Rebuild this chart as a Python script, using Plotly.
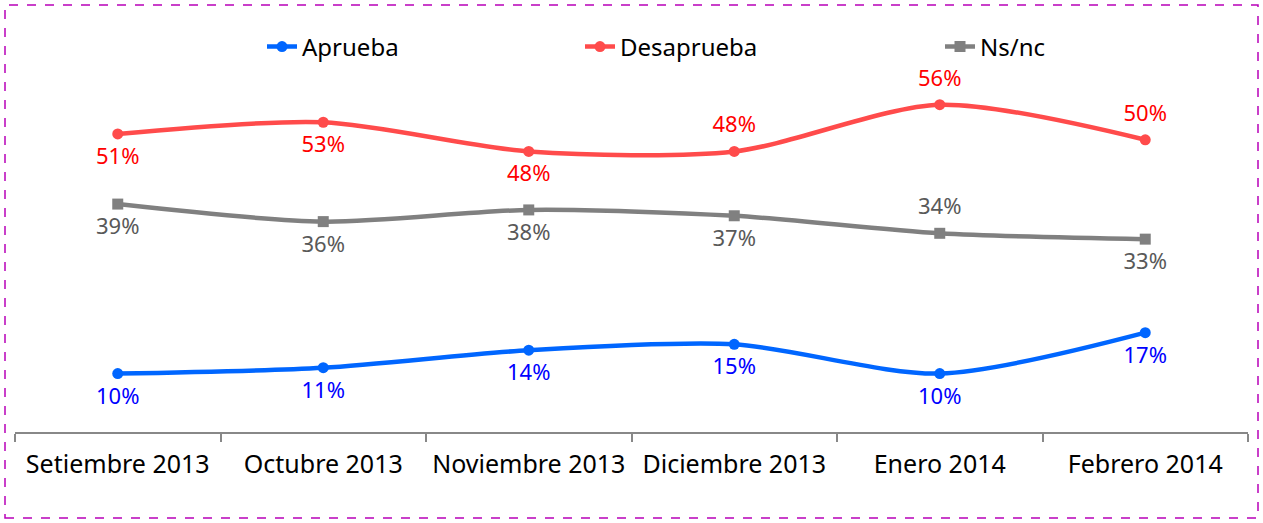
import plotly.graph_objects as go

meses = ["Setiembre 2013", "Octubre 2013", "Noviembre 2013", "Diciembre 2013", "Enero 2014", "Febrero 2014"]
aprueba = [10, 11, 14, 15, 10, 17]
desaprueba = [51, 53, 48, 48, 56, 50]
nsnc = [39, 36, 38, 37, 34, 33]

pos_aprueba = ["bottom center"] * 6
pos_desaprueba = ["bottom center"] * 3 + ["top center"] * 3
pos_nsnc = ["bottom center"] * 4 + ["top center", "bottom center"]

W, H = 1263, 523
L, R, T, B = 15, 15, 72, 91
pw, ph = W - L - R, H - T - B

def px_x(v):
    return (v - L) / pw

def px_y(v):
    return (H - B - v) / ph

fig = go.Figure()

series = [
    ("Aprueba", aprueba, "#0066FF", "#0000FF", "circle", pos_aprueba, "legend"),
    ("Desaprueba", desaprueba, "#FF4B4B", "#FF0000", "circle", pos_desaprueba, "legend2"),
    ("Ns/nc", nsnc, "#808080", "#595959", "square", pos_nsnc, "legend3"),
]

for name, vals, col, tcol, sym, pos, leg in series:
    fig.add_trace(go.Scatter(
        x=meses, y=vals, name=name, mode="lines+markers",
        line=dict(color=col, width=4.5, shape="spline", smoothing=0.8),
        marker=dict(color=col, size=11, symbol=sym),
        legend=leg, cliponaxis=False,
    ))
    # labels pushed a little further from the points
    fig.add_trace(go.Scatter(
        x=meses, y=vals, mode="markers+text", showlegend=False, hoverinfo="skip",
        marker=dict(size=20, opacity=0),
        text=[f"{v}%" for v in vals], textposition=pos,
        textfont=dict(color=tcol, size=22, family="Noto Sans"),
        cliponaxis=False,
    ))

leg_common = dict(orientation="h", yanchor="middle", xanchor="left",
                  font=dict(size=24, color="#000000", family="Noto Sans"),
                  bgcolor="rgba(0,0,0,0)", itemwidth=30)
fig.update_layout(
    showlegend=True,
    legend=dict(x=px_x(262), y=px_y(47), **leg_common),
    legend2=dict(x=px_x(580), y=px_y(47), **leg_common),
    legend3=dict(x=px_x(940), y=px_y(47), **leg_common),
)

fig.update_xaxes(
    type="category", range=[-0.5, 5.5], tickson="boundaries",
    ticks="outside", ticklen=8, tickcolor="#888888", tickwidth=2,
    showline=True, linecolor="#888888", linewidth=2, showgrid=False,
    tickfont=dict(size=25, color="#000000", family="Noto Sans"),
    ticklabelstandoff=9,
)
fig.update_yaxes(range=[0, 61.6], visible=False, showgrid=False, zeroline=False)

fig.add_shape(type="rect", xref="paper", yref="paper",
              x0=px_x(5), x1=px_x(1258), y0=px_y(518), y1=px_y(5),
              line=dict(color="#B800B8", width=1.5, dash="dash"))

fig.update_layout(
    width=W, height=H, margin=dict(l=L, r=R, t=T, b=B),
    plot_bgcolor="white", paper_bgcolor="white",
    font=dict(family="Noto Sans"),
)

fig.write_html("out.html", config={"displayModeBar": False},
               post_script="document.body.style.margin='0';")
